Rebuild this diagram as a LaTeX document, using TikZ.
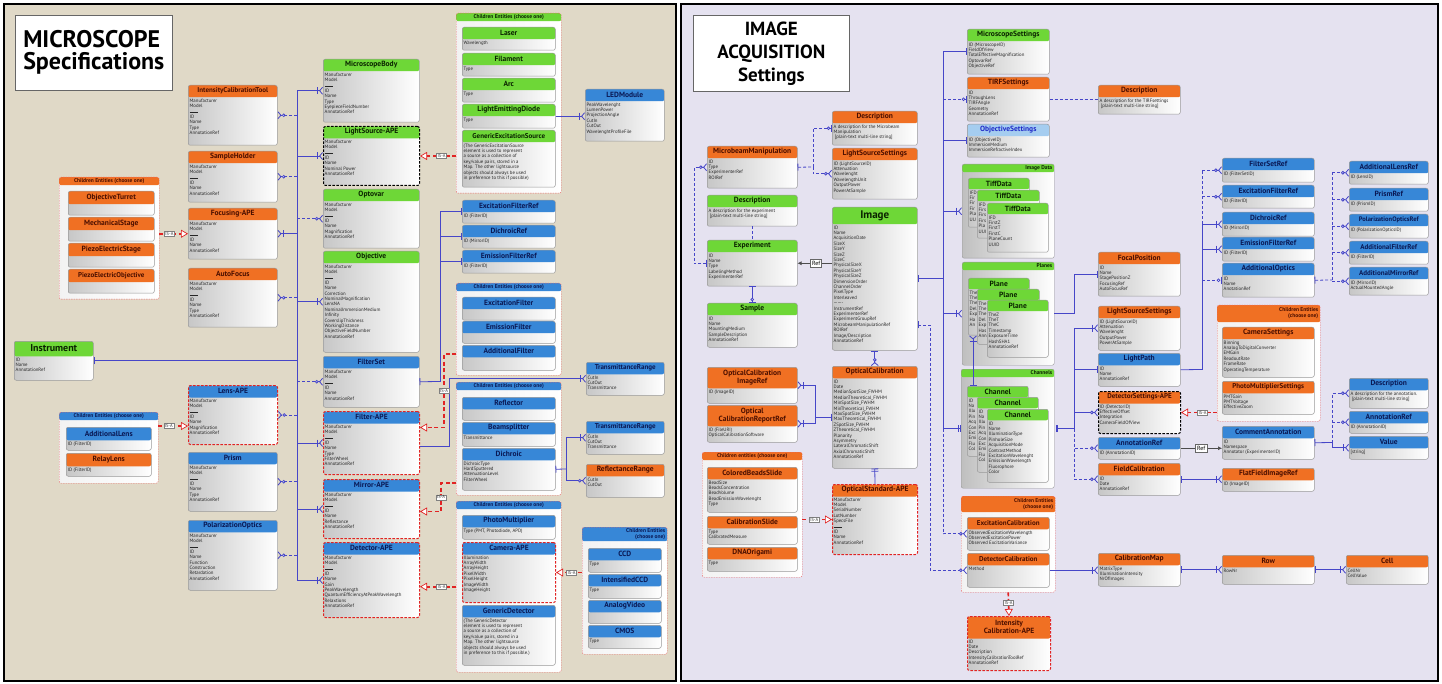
\documentclass[tikz,border=0pt]{standalone}
\usepackage{fontspec}
\setmainfont{PT Sans}
\usetikzlibrary{arrows.meta}
\definecolor{lbg}{RGB}{224,217,199}
\definecolor{rbg}{RGB}{229,226,240}
\definecolor{orhd}{RGB}{240,112,35}
\definecolor{ortt}{RGB}{75,15,0}
\definecolor{grhd}{RGB}{110,215,55}
\definecolor{grtt}{RGB}{10,35,0}
\definecolor{blhd}{RGB}{55,135,215}
\definecolor{bltt}{RGB}{10,25,85}
\definecolor{skhd}{RGB}{165,205,240}
\definecolor{sktt}{RGB}{30,40,200}
\definecolor{erline}{RGB}{70,70,200}
\definecolor{isared}{RGB}{225,35,35}
\newcommand{\sepline}{\rule[1pt]{8pt}{.3pt}}
\newcommand{\tts}{\fontsize{7}{8}\selectfont\bfseries}
\tikzset{
hh/.code={\gdef\hdh{#1}},
ttf/.code={\gdef\ttf{#1}},
hdfill/.code={\gdef\hdfill{#1}},
rt/.code={\gdef\ganc{east}\gdef\gpos{north east}\gdef\gxs{-2pt}\gdef\galn{right}},
headband/.style={path picture={\fill[\hdfill] (path picture bounding box.north west) rectangle ([yshift=-\hdh]path picture bounding box.north east);}},
entbox/.style={
	rectangle, rounded corners=2pt, anchor=north west, inner sep=0pt,
	draw=black!40, line width=.5pt,
	left color=black!22, right color=white,
	headband
},
grpbox/.style={
	rectangle, rounded corners=2pt, anchor=north west, inner sep=0pt,
	draw=isared!70, line width=.4pt, dash pattern=on 1.5pt off 1pt,
	left color=black!5, right color=white,
	headband
},
stackbox/.style={solid, draw=black!40, left color=black!25, right color=white},
ape/.style={draw=isared, line width=1pt, dash pattern=on 2.5pt off 1.5pt},
apek/.style={draw=black, line width=1pt, dash pattern=on 2.5pt off 1.5pt},
entbody/.style={anchor=north west, inner sep=0pt, align=left, font=\fontsize{4.8}{5.4}\selectfont, text=black!85},
grptitle/.style={inner sep=0pt, font=\fontsize{5.5}{6}\selectfont\bfseries},
ttlbox/.style={draw=black!60, fill=white, anchor=north west, inner sep=0pt, line width=.6pt},
crow/.tip={Straight Barb[reversed,length=3pt,width=7pt]},
er/.style={draw=erline, line width=.8pt},
erd/.style={er, dash pattern=on 3pt off 2pt},
optrel/.style={erd, -{Circle[fill=white,length=3.5pt,sep=.5pt]crow}},
reqrel/.style={er, -{Bar[width=7pt,sep=1.5pt]crow}},
zeromany/.style={-{Circle[fill=white,length=3.5pt,sep=.5pt]crow}},
onemany/.style={-{Bar[width=7pt,sep=1.5pt]crow}},
zeroone/.style={-{Circle[fill=white,length=3.5pt,sep=1pt]Bar[width=7pt]}},
oneone/.style={-{Bar[width=7pt,sep=1.5pt]Bar[width=7pt]}},
bom/.style={{Bar[width=7pt]}-{Bar[width=7pt,sep=1.5pt]crow}},
bzm/.style={{Bar[width=7pt]}-{Circle[fill=white,length=3.5pt,sep=.5pt]crow}},
bzo/.style={{Bar[width=7pt]}-{Circle[fill=white,length=3.5pt,sep=1pt]Bar[width=7pt]}},
isa/.style={draw=isared, line width=1.6pt, dash pattern=on 4pt off 2.5pt,
	-{Triangle[fill=white,length=7pt,width=8pt,line width=.7pt]}},
isalbl/.style={draw=black!50, fill=white, solid, line width=.4pt, inner sep=1pt,
	font=\fontsize{4.5}{5}\selectfont, text=black!80},
refl/.style={draw=black!70, line width=.6pt, -{Latex[length=4pt,width=4pt]}},
reflbl/.style={draw=black!60, fill=white, inner sep=1.5pt, font=\fontsize{6}{7}\selectfont}
}
% entity: [opts]{name}{x}{y}{w}{h}{colour}{title}{fields}
\newcommand{\ent}[9][]{%
	\gdef\hdh{12pt}\gdef\ttf{\fontsize{7.5}{8.5}\selectfont\bfseries}%
	\node[entbox, minimum width=#5pt, minimum height=#6pt, hdfill=#7hd, #1] (#2) at (#3,#4) {};
	\node[inner sep=0pt, align=center, font=\ttf, text=#7tt] (#2-t) at ([yshift=-\hdh/2]#2.north) {#8};
	\node[entbody] (#2-b) at ([xshift=1.5pt,yshift=-\hdh-1.5pt]#2.north west) {#9};
}
% group: [opts]{name}{x}{y}{w}{h}{colour}{title}
\newcommand{\grp}[8][]{%
	\gdef\hdh{8pt}\gdef\ganc{center}\gdef\gpos{north}\gdef\gxs{0pt}\gdef\galn{center}%
	\node[grpbox, minimum width=#5pt, minimum height=#6pt, hdfill=#7hd, #1] (#2) at (#3,#4) {};
	\node[grptitle, anchor=\ganc, align=\galn, text=#7tt] (#2-t) at ([xshift=\gxs,yshift=-\hdh/2]#2.\gpos) {#8};
}
\begin{document}
\begin{tikzpicture}[x=1pt, y=-1pt]
\useasboundingbox (0,0) rectangle (1442,684);
\draw[fill=lbg, line width=1.2pt] (4,4) rectangle (676,681);
\draw[fill=rbg, line width=1.2pt] (681,4) rectangle (1438,681);

\node[ttlbox, minimum width=157pt, minimum height=75pt, align=left, font=\fontsize{24}{22}\selectfont\bfseries] (mtitle) at (15,15) {MICROSCOPE\\Specifications};
\node[ttlbox, minimum width=156pt, minimum height=76pt, align=center, font=\fontsize{19}{23}\selectfont\bfseries] (atitle) at (693,15) {IMAGE\\ACQUISITION\\Settings};

% microscope specifications
\ent[ttf=\tts]{ict}{188}{85}{89}{60}{or}{IntensityCalibrationTool}{Manufacturer\\Model\\\sepline\\ID\\Name\\Type\\AnnotationRef}
\ent{samp}{188}{151}{89}{51}{or}{SampleHolder}{Manufacturer\\Model\\\sepline\\ID\\Name\\AnnotationRef}
\ent{focus}{188}{208}{89}{51}{or}{Focusing-APE}{Manufacturer\\Model\\\sepline\\ID\\Name\\AnnotationRef}
\ent{afocus}{188}{268}{89}{59}{or}{AutoFocus}{Manufacturer\\Model\\\sepline\\ID\\Name\\Type\\AnnotationRef}
\ent{mbody}{323}{59}{96}{63}{gr}{MicroscopeBody}{Manufacturer\\Model\\\sepline\\ID\\Name\\Type\\EyepieceFieldNumber\\AnnotationRef}
\ent[apek]{lsrc}{323}{126}{96}{59}{gr}{LightSource-APE}{Manufacturer\\Model\\\sepline\\ID\\Name\\Nominal Power\\AnnotationRef}
\ent{optovar}{323}{189}{96}{59}{gr}{Optovar}{Manufacturer\\Model\\\sepline\\ID\\Name\\Magnification\\AnnotationRef}
\ent{objective}{323}{251}{96}{101}{gr}{Objective}{Manufacturer\\Model\\\sepline\\ID\\Name\\Correction\\NominalMagnification\\LensNA\\NominalImmersionMedium\\Infinity\\CoverslipThickness\\WorkingDistance\\ObjectiveFieldNumber\\AnnotationRef}
\ent{fset}{323}{356}{96}{51}{bl}{FilterSet}{Manufacturer\\Model\\\sepline\\ID\\Name\\AnnotationRef}
\ent[ape]{filter}{323}{411}{96}{63}{bl}{Filter-APE}{Manufacturer\\Model\\\sepline\\ID\\Name\\Type\\FilterWheel\\AnnotationRef}
\ent[ape]{mirror}{323}{479}{96}{59}{bl}{Mirror-APE}{Manufacturer\\Model\\\sepline\\ID\\Name\\Reflectance\\AnnotationRef}
\ent[ape]{det}{323}{542}{96}{75}{bl}{Detector-APE}{Manufacturer\\Model\\\sepline\\ID\\Name\\Gain\\PeakWavelength\\QuantumEfficiencyAtPeakWavelength\\Relaxtions\\AnnotationRef}
\ent[ape]{lens}{188}{385}{89}{59}{bl}{Lens-APE}{Manufacturer\\Model\\\sepline\\ID\\Name\\Magnification\\AnnotationRef}
\ent{prism}{188}{452}{89}{59}{bl}{Prism}{Manufacturer\\Model\\\sepline\\ID\\Name\\Type\\AnnotationRef}
\ent{polar}{188}{520}{89}{70}{bl}{PolarizationOptics}{Manufacturer\\Model\\\sepline\\ID\\Name\\Function\\Construction\\Retardation\\AnnotationRef}
\ent[hh=15pt, ttf=\fontsize{10}{11}\selectfont\bfseries]{instr}{14}{341}{79}{39}{gr}{Instrument}{ID\\Name\\AnnotationRef}

\grp{gstage}{59}{177}{100}{122}{or}{Children Entities (choose one)}
\ent[hh=13pt]{turret}{68}{191}{86}{24}{or}{ObjectiveTurret}{}
\ent[hh=13pt]{mstage}{68}{217}{86}{24}{or}{MechanicalStage}{}
\ent[hh=13pt]{pstage}{68}{243}{86}{24}{or}{PiezoElectricStage}{}
\ent[hh=13pt, ttf=\tts]{pobj}{68}{269}{86}{24}{or}{PiezoElectricObjective}{}
\grp{glens}{59}{412}{99}{71}{bl}{Children Entities (choose one)}
\ent[hh=13pt]{addlens}{66}{427}{85}{23}{bl}{AdditionalLens}{ID (FilterID)}
\ent[hh=13pt]{relay}{66}{453}{85}{23}{or}{RelayLens}{ID (FilterID)}

\grp{gsrc}{456}{13}{105}{180}{gr}{Children Entities (choose one)}
\ent{laser}{462}{27}{93}{23}{gr}{Laser}{Wavelength}
\ent{filament}{462}{53}{93}{23}{gr}{Filament}{Type}
\ent{arc}{462}{78}{93}{24}{gr}{Arc}{Type}
\ent{led}{462}{104}{93}{24}{gr}{LightEmittingDiode}{Type}
\ent[ttf=\tts]{gensrc}{462}{130}{93}{57}{gr}{GenericExcitationSource}{(The GenericExcitationSource\\element is used to represent\\a source as a collection of\\key/value pairs, stored in a\\Map. The other lightsource\\objects should always be used\\in preference to this if possible)}
\ent{ledmod}{585}{89}{79}{52}{bl}{LEDModule}{PeakWavelenght\\LumenPower\\ProjectionAngle\\CutIn\\CutOut\\WavelenghtProfileFile}
\ent{efref}{462}{200}{93}{23}{bl}{ExcitationFilterRef}{ID (FilterID)}
\ent{dref}{462}{225}{93}{23}{bl}{DichroicRef}{ID (MirrorID)}
\ent{emref}{462}{250}{93}{23}{bl}{EmissionFilterRef}{ID (FilterID)}
\grp{gfilt}{456}{283}{105}{92}{bl}{Children Entities (choose one)}
\ent{exfilt}{462}{297}{93}{23}{bl}{ExcitationFilter}{}
\ent{emfilt}{462}{321}{93}{22}{bl}{EmissionFilter}{}
\ent{addfilt}{462}{345}{93}{25}{bl}{AdditionalFilter}{}
\ent[ttf=\tts]{trange}{586}{362}{78}{33}{bl}{TransmittanceRange}{CutIn\\CutOut\\Transmittance}
\grp{gmirr}{456}{382}{105}{113}{bl}{Children Entities (choose one)}
\ent{reflector}{462}{397}{93}{23}{bl}{Reflector}{}
\ent{beamsp}{462}{422}{93}{24}{bl}{Beamsplitter}{Transmittance}
\ent{dichroic}{462}{448}{93}{42}{bl}{Dichroic}{DichroicType\\HardSputtered\\AttenuationLevel\\FilterWheel}
\ent[ttf=\tts]{trangeb}{586}{421}{78}{33}{bl}{TransmittanceRange}{CutIn\\CutOut\\Transmittance}
\ent{rrange}{586}{464}{78}{33}{or}{ReflectanceRange}{CutIn\\CutOut}
\grp{gdet}{456}{501}{105}{171}{bl}{Children Entities (choose one)}
\ent{pmt}{462}{515}{93}{24}{bl}{PhotoMultiplier}{Type (PMT, Photodiode, APD)}
\ent[ape]{camera}{462}{542}{93}{60}{bl}{Camera-APE}{Illumination\\ArrayWidth\\ArrayHeight\\PixelWidth\\PixelHeight\\ImageWidth\\ImageHeight}
\ent{gendet}{462}{605}{93}{60}{bl}{GenericDetector}{(The GenericDetector\\element is used to represent\\a source as a collection of\\key/value pairs, stored in a\\Map. The other lightsource\\objects should always be used\\in preference to this if possible.)}
\grp[hh=14pt, rt]{gcam}{582}{527}{85}{127}{bl}{Children Entities\\(choose one)}
\ent{ccd}{588}{548}{73}{24}{bl}{CCD}{Type}
\ent{iccd}{588}{574}{73}{24}{bl}{IntensifiedCCD}{Type}
\ent{analog}{588}{600}{73}{23}{bl}{AnalogVideo}{}
\ent{cmos}{588}{625}{73}{23}{bl}{CMOS}{Type}

% image acquisition settings
\ent{descmm}{832}{111}{85}{34}{or}{Description}{A description for the Microbeam\\Manipulation\\{} [plain-text multi-line string]}
\ent{lssa}{832}{148}{85}{51}{or}{LightSourceSettings}{ID (LightSourceID)\\Attenuation\\Wavelenght\\WavelengthUnit\\OutputPower\\PowerAtSample}
\ent{mm}{707}{146}{90}{42}{or}{MicrobeamManipulation}{ID\\Type\\ExperimenterRef\\ROIRef}
\ent{descexp}{707}{195}{90}{31}{gr}{Description}{A description for the experiment\\{} [plain-text multi-line string]}
\ent{exp}{707}{240}{90}{46}{gr}{Experiment}{ID\\Name\\Type\\LabelingMethod\\ExperimenterRef}
\ent[hh=17pt, ttf=\fontsize{11}{12}\selectfont\bfseries]{image}{832}{207}{85}{143}{gr}{Image}{ID\\Name\\AcquisitionDate\\SizeX\\SizeY\\SizeZ\\SizeC\\PhysicalSizeX\\PhysicalSizeY\\PhysicalSizeZ\\DimensionOrder\\ChannelOrder\\PixelType\\Interleaved\\-------\\InstrumentRef\\ExperimenterRef\\ExperimentGroupRef\\MicrobeamManipulationRef\\ROIRef\\Image/Description\\AnnotationRef}
\ent{sample}{707}{303}{90}{44}{gr}{Sample}{ID\\Name\\MountingMedium\\SampleDescription\\AnnotationRef}
\ent[hh=21pt]{ocir}{707}{367}{90}{36}{or}{OpticalCalibration\\ImageRef}{ID (ImageID)}
\ent[hh=21pt]{ocrr}{707}{405}{90}{37}{or}{Optical\\CalibrationReportRef}{ID (FileURI)\\OpticalCalibrationSoftware}
\ent{ocal}{832}{366}{85}{102}{or}{OpticalCalibration}{ID\\Date\\MedianSpotSize\_FWHM\\MedianTheoretical\_FWHM\\MinSpotSize\_FWHM\\MinTheoretical\_FWHM\\MaxSpotSize\_FWHM\\MaxTheoretical\_FWHM\\ZSpotSize\_FWHM\\ZTheoretical\_FWHM\\Planarity\\Asymmetry\\LateralChromaticShift\\AxialChromaticShift\\AnnotationRef}
\ent[ape]{osa}{832}{484}{85}{70}{or}{OpticalStandard-APE}{Manufacturer\\Model\\SerialNumber\\LotNumber\\SpecsFile\\\sepline\\ID\\Name\\AnnotationRef}
\grp{gbead}{702}{452}{100}{125}{or}{Children entities (choose one)}
\ent{cbs}{707}{467}{90}{45}{or}{ColoredBeadsSlide}{BeadSize\\BeadsConcentration\\BeadVolume\\BeadEmissionWavelenght\\Type}
\ent{cslide}{707}{516}{90}{28}{or}{CalibrationSlide}{Type\\CalibratedMeasure}
\ent{dna}{707}{547}{90}{24}{or}{DNAOrigami}{Type}

\ent{msset}{967}{29}{82}{45}{gr}{MicroscopeSettings}{ID (MicroscopeID)\\FieldOfView\\TotalEffectiveMagnification\\OptovarRef\\ObjectiveRef}
\ent{tirf}{967}{77}{82}{44}{or}{TIRFSettings}{ID\\ThroughLens\\TIRFAngle\\Geometry\\AnnotationRef}
\ent{objset}{967}{124}{82}{33}{sk}{ObjectiveSettings}{ID (ObjectiveID)\\ImmersionMedium\\ImmersionRefractiveIndex}
\ent{desctirf}{1098}{85}{82}{29}{or}{Description}{A description for the TIRFsettings\\{} [plain-text multi-line string]}
\grp[stackbox, rt]{gtiff}{962}{164}{92}{94}{gr}{Image Data}
\ent[hh=11pt]{tiffa}{968}{178}{61}{49}{gr}{TiffData}{IFD\\Fir\\Fir\\Fir\\Pla\\UU}
\ent[hh=11pt]{tiffb}{977}{190}{62}{48}{gr}{TiffData}{IFD\\Firs\\Firs\\Firs\\Pla\\UUI}
\ent[hh=11pt]{tiffc}{987}{203}{61}{49}{gr}{TiffData}{IFD\\FirstZ\\FirstT\\FirstC\\PlaneCount\\UUID}
\grp[stackbox, rt]{gplanes}{962}{262}{92}{103}{gr}{Planes}
\ent[hh=11pt]{planea}{968}{278}{61}{57}{gr}{Plane}{The\\The\\The\\Del\\Exp\\Ha\\An}
\ent[hh=11pt]{planeb}{977}{289}{62}{55}{gr}{Plane}{The\\The\\The\\Del\\Exp\\Has\\Ann}
\ent[hh=11pt]{planec}{987}{300}{61}{57}{gr}{Plane}{TheZ\\TheT\\TheC\\Timestamp\\ExposureTime\\HashSHA1\\AnnotationRef}
\grp[stackbox, rt]{gchan}{961}{369}{93}{119}{gr}{Channels}
\ent[hh=11pt]{chana}{967}{386}{61}{70}{gr}{Channel}{ID\\Na\\Illu\\Pin\\Acq\\Con\\Exc\\Emi\\Flu\\Col}
\ent[hh=11pt]{chanb}{977}{397}{61}{75}{gr}{Channel}{ID\\Na\\Illu\\Pin\\Acq\\Con\\Exc\\Emi\\Flu\\Col}
\ent[hh=11pt]{chanc}{987}{409}{61}{73}{gr}{Channel}{ID\\Name\\IlluminationType\\PinholeSize\\AcquisitionMode\\ContrastMethod\\ExcitationWavelenght\\EmissionWavelength\\Fluorophore\\Color}
\ent{focal}{1098}{252}{82}{44}{or}{FocalPosition}{ID\\Name\\StagePositionZ\\FocusingRef\\AutoFocusRef}
\ent{lssb}{1098}{306}{82}{44}{or}{LightSourceSettings}{ID (LightSourceID)\\Attenuation\\Wavelenght\\OutputPower\\PowerAtSample}
\ent{lpath}{1098}{353}{82}{33}{bl}{LightPath}{ID\\Name\\AnnotationRef}
\ent[apek, ttf=\tts]{dsa}{1098}{391}{82}{42}{or}{DetectorSettings-APE}{ID (DetectorID)\\EffectiveOffset\\Integration\\CameraFieldOfView}
\ent{arefa}{1098}{437}{82}{22}{bl}{AnnotationRef}{ID (AnnotationID)}
\ent{fcal}{1098}{463}{82}{32}{or}{FieldCalibration}{ID\\Date\\AnnotationRef}
\grp[hh=16pt, rt]{gcal}{961}{496}{94}{96}{or}{Children Entities\\(choose one)}
\ent[ttf=\tts]{excal}{967}{517}{82}{33}{or}{ExcitationCalibration}{ObservedExcitationWavelength\\ObservedExcitationPower\\Observed ExcitationVariance}
\ent[ttf=\tts]{detcal}{967}{553}{82}{34}{or}{DetectorCalibration}{Method}
\ent[ape, hh=22pt]{icape}{967}{616}{83}{54}{or}{Intensity\\Calibration-APE}{ID\\Date\\Description\\IntensityCalibrationToolRef\\AnnotationRef}
\ent{cmap}{1098}{553}{82}{33}{or}{CalibrationMap}{MatrixType\\IlluminationIntensity\\NrOfImages}

\ent{fsref}{1222}{158}{92}{24}{bl}{FilterSetRef}{ID (FilterSetID)}
\ent{efrefb}{1222}{185}{92}{23}{bl}{ExcitationFilterRef}{ID (FilterID)}
\ent{drefb}{1222}{212}{92}{24}{bl}{DichroicRef}{ID (MirrorID)}
\ent{emrefb}{1222}{237}{92}{24}{bl}{EmissionFilterRef}{ID (FilterID)}
\ent{addopt}{1222}{263}{92}{34}{bl}{AdditionalOptics}{ID\\Name\\AnotationRef}
\ent{alref}{1349}{161}{79}{23}{bl}{AdditionalLensRef}{ID (LensID)}
\ent{pref}{1349}{188}{79}{23}{bl}{PrismRef}{ID (PrismID)}
\ent[ttf=\fontsize{6.5}{7.5}\selectfont\bfseries]{poref}{1349}{214}{79}{24}{bl}{PolarizationOpticsRef}{ID (PolarizationOpticsID)}
\ent[ttf=\tts]{afref}{1349}{241}{79}{23}{bl}{AdditionalFilterRef}{ID (FilterID)}
\ent[ttf=\tts]{amref}{1349}{267}{79}{28}{bl}{AdditionalMirrorRef}{ID (MirrorID)\\ActualMountedAngle}
\grp[hh=17pt, rt]{gcset}{1217}{305}{103}{116}{or}{Children Entities\\(choose one)}
\ent{camset}{1222}{327}{92}{50}{or}{CameraSettings}{Binning\\AnalogToDigitalConverter\\EMGain\\ReadoutRate\\FrameRate\\OperatingTemperature}
\ent[ttf=\tts]{pmtset}{1222}{381}{92}{33}{or}{PhotoMultiplierSettings}{PMTGain\\PMTVoltage\\EffectiveZoom}
\ent{comment}{1222}{426}{92}{33}{bl}{CommentAnnotation}{ID\\Namespace\\Annotator (ExperimenterID)}
\ent{descann}{1349}{378}{79}{30}{bl}{Description}{A description for the annotation.\\{} [plain-text multi-line string]}
\ent{arefb}{1349}{411}{79}{22}{bl}{AnnotationRef}{ID (AnnotationID)}
\ent{value}{1349}{436}{79}{23}{bl}{Value}{[string]}
\ent{ffref}{1222}{468}{92}{23}{or}{FlatFieldImageRef}{ID (ImageID)}
\ent{row}{1222}{555}{92}{29}{or}{Row}{RowNr}
\ent{cell}{1346}{555}{82}{29}{or}{Cell}{CellNr\\CellValue}

% connectors, left panel
\coordinate (lbus) at (297,361);
\draw[er] (lbus |- mbody.west) -- (lbus |- det.west);
\draw[er, {Bar[width=7pt]}-] (instr.east) -- (lbus |- instr.east);
\foreach \n in {ict, samp, afocus, lens, prism, polar}
	\draw[optrel] (lbus |- \n.east) -- (\n.east);
\draw[reqrel] (lbus |- focus.east) -- (focus.east);
\foreach \n in {optovar, fset}
	\draw[optrel] (lbus |- \n.west) -- (\n.west);
\foreach \n in {mbody, lsrc, objective, filter, mirror, det}
	\draw[reqrel] (lbus |- \n.west) -- (\n.west);

\draw[er, onemany] (led.east) -- (ledmod.west |- led.east);
\coordinate (fsj) at (440,381.5);
\draw[er, {Bar[width=7pt]}-] (fset.east) -- (fsj);
\draw[er] (fsj) -- (fsj |- efref.west);
\foreach \n in {efref, dref, emref}
	\draw[er, -{Bar[width=7pt]}] (fsj |- \n.west) -- (\n.west);
\draw[er, onemany] ([yshift=-3.5pt]filter.east) -- ++(29,0) |- (trange.west);
\coordinate (dj) at (566,469);
\draw[er, {Bar[width=7pt]}-] (dichroic.east) -- (dj);
\draw[er, onemany] (dj) |- (trangeb.west);
\draw[er, zeromany] (dj) |- (rrange.west);

\draw[isa] (gstage.east |- focus.west) -- (focus.west) node[isalbl, pos=.35] (isaa) {IS-A};
\coordinate (lensisa) at ([yshift=-11pt]lens.west);
\draw[isa] (glens.east |- lensisa) -- (lensisa) node[isalbl, pos=.35] (isab) {IS-A};
\draw[isa] (gsrc.west |- lsrc.east) -- (lsrc.east) node[isalbl, pos=.4] (isac) {IS-A};
\draw[isa] ([yshift=-25pt]gfilt.west) -- ++(-12,0) |- ([yshift=15.5pt]filter.east) node[isalbl, pos=.25] (isad) {IS-A};
\draw[isa] ([yshift=-44.5pt]gmirr.west) -- ++(-15,0) |- ([yshift=-2.5pt]mirror.east) node[isalbl, pos=.25] (isae) {IS-A};
\draw[isa] (gdet.west) -- (gdet.west -| det.east) node[isalbl, pos=.4] (isaf) {IS-A};
\draw[isa] (gcam.west |- camera.east) -- (camera.east) node[isalbl, pos=.4] (isag) {IS-A};

% connectors, right panel
\coordinate (mmj) at (813,167);
\draw[erd, {Bar[width=7pt]}-] (mm.east) -- (mmj);
\draw[erd, zeroone] (mmj) |- (descmm.west);
\draw[erd, zeromany] (mmj) |- (lssa.west);
\draw[erd, bzm] (exp.west) -- ++(-13,0) |- (mm.west);
\draw[erd] (descexp.south) -- (exp.north);
\draw[refl] (image.west |- exp.east) -- (exp.east) node[reflbl, pos=.46] (refexp) {Ref};
\draw[er, bzo] (exp.south) -- (sample.north);
\draw[er, bzm] (image.south) -- (ocal.north);
\draw[er, oneone] (osa.north) -- (ocal.south);
\coordinate (ocj) at (815,417);
\draw[er, onemany] (ocj) |- (ocir.east);
\draw[er, onemany] (ocj) |- (ocrr.east);
\draw[er, -{Bar[width=7pt]}] (ocj) -- (ocj -| ocal.west);
\draw[isa] (gbead.east |- osa.west) -- (osa.west) node[isalbl, pos=.4] (isah) {IS-A};

\coordinate (rbus) at (943,280);
\draw[er, {Bar[width=7pt]}-] (image.east) -- (rbus |- image.east);
\draw[er] (rbus |- msset.west) -- (rbus |- gchan.west);
\draw[er, -{Bar[width=7pt]}] (rbus |- msset.west) -- (msset.west);
\draw[erd, zeroone] (rbus |- tirf.west) -- (tirf.west);
\draw[er, -{Bar[width=7pt]}] (rbus |- objset.west) -- (objset.west);
\draw[er, onemany] (rbus |- gtiff.west) -- (gtiff.west);
\draw[er, onemany] (rbus |- gplanes.west) -- (gplanes.west);
\draw[er, oneone] (rbus |- gchan.west) -- (gchan.west);
\draw[erd, zeromany] (rbus |- gchan.west) |- (excal.west);
\coordinate (rbusb) at (930,325);
\draw[erd, bzm] (image.east |- rbusb) -- (rbusb) |- (detcal.west);
\draw[erd] (tirf.east) -- (desctirf.west |- tirf.east);
\draw[er, bom] ([xshift=6pt]chana.north west) -- ([xshift=5pt]planea.south west);

\draw[er, -{Bar[width=7pt]}] (gplanes.east) -- ++(20,0) |- (focal.west);
\coordinate (cj) at ([xshift=20pt]gchan.east);
\draw[er, {Bar[width=7pt,sep=1.5pt]Bar[width=7pt]}-] (gchan.east) -- (cj);
\draw[er, onemany] (cj) |- (lssb.west);
\draw[er, -{Bar[width=7pt]}] (cj) |- (lpath.west);
\draw[er, zeromany] (cj) |- (dsa.west);
\draw[erd, zeromany] (cj) |- (arefa.west);
\draw[erd, zeromany] (cj) |- (fcal.west);
\draw[isa] (gcset.west |- dsa.east) -- (dsa.east) node[isalbl, pos=.4] (isai) {IS-A};
\draw[isa] (gcal.south) -- (icape.north) node[isalbl, pos=.45] (isaj) {IS-A};
\draw[er, onemany] (detcal.east) -- (cmap.west |- detcal.east);
\draw[er, bom] (cmap.east) -- (row.west);
\draw[er, bom] (row.east) -- (cell.west);

\coordinate (obus) at (1202,369.5);
\draw[er] (lpath.east) -- (obus);
\draw[er] (obus) -- (obus |- drefb.west);
\draw[erd] (obus |- drefb.west) -- (obus |- fsref.west);
\draw[erd, zeromany] (obus |- fsref.west) -- (fsref.west);
\draw[erd, zeromany] (obus |- efrefb.west) -- (efrefb.west);
\draw[er, onemany] (obus |- drefb.west) -- (drefb.west);
\draw[er, onemany] (obus |- emrefb.west) -- (emrefb.west);
\draw[erd, zeroone] (obus |- addopt.west) -- (addopt.west);
\coordinate (aoj) at (1332,280);
\draw[erd, {Bar[width=7pt]}-] (addopt.east) -- (aoj);
\draw[erd] (aoj) -- (aoj |- alref.west);
\foreach \n in {alref, pref, poref, afref, amref}
	\draw[erd, zeromany] (aoj |- \n.west) -- (\n.west);
\coordinate (caj) at (1332,442.5);
\draw[er, {Bar[width=7pt]}-] (comment.east) -- (caj);
\draw[erd, zeromany] (caj) |- (descann.west);
\draw[erd, zeromany] (caj) |- (arefb.west);
\draw[er, onemany] (caj) |- (value.west);
\draw[refl] (arefa.east) -- (comment.west |- arefa.east) node[reflbl, pos=.5] (refann) {Ref};
\draw[er, bom] (fcal.east) -- (ffref.west |- fcal.east);
\end{tikzpicture}
\end{document}
